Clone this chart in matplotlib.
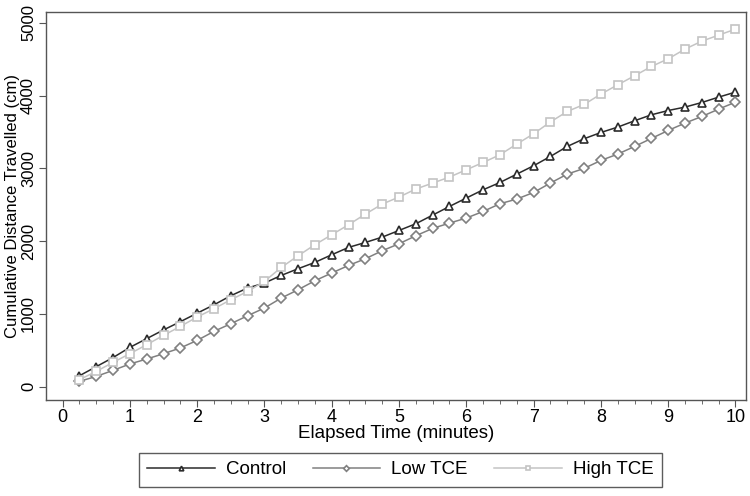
import numpy as np
import matplotlib.pyplot as plt

plt.rcParams['font.family'] = ['Liberation Sans', 'DejaVu Sans']

# elapsed time (minutes), every 15 s
minutes = np.arange(1, 41) * 0.25

control = [150, 275, 400, 540, 660, 780, 893, 1010, 1125, 1250,
           1356, 1424, 1529, 1621, 1708, 1813, 1914, 1982, 2055, 2147,
           2239, 2358, 2477, 2592, 2706, 2806, 2921, 3036, 3164, 3301,
           3407, 3493, 3567, 3654, 3736, 3795, 3842, 3905, 3979, 4048]
low_tce = [73, 141, 224, 312, 380, 453, 532, 636, 760, 865,
           975, 1081, 1218, 1332, 1456, 1562, 1666, 1758, 1868, 1964,
           2074, 2175, 2248, 2317, 2408, 2514, 2578, 2669, 2798, 2921,
           2999, 3109, 3196, 3301, 3411, 3521, 3622, 3713, 3814, 3910]
high_tce = [96, 210, 334, 453, 577, 705, 828, 957, 1071, 1195,
            1309, 1447, 1639, 1799, 1951, 2088, 2225, 2372, 2509, 2606,
            2716, 2798, 2880, 2981, 3081, 3187, 3334, 3475, 3638, 3782,
            3878, 4021, 4148, 4272, 4400, 4505, 4639, 4748, 4831, 4913]

series = [
    ("Control", control, "#2b2b2b", "^"),
    ("Low TCE", low_tce, "#808080", "D"),
    ("High TCE", high_tce, "#c4c4c4", "s"),
]

fig = plt.figure(figsize=(7.5, 4.96), dpi=100)
ax = fig.add_axes([0.061, 0.194, 0.934, 0.782])

for name, vals, col, mk in series:
    ax.plot(minutes, vals, color=col, lw=1.1, marker=mk,
            ms=5.5 if mk != "D" else 4.8, mfc="white", mec=col, mew=1.2,
            label=name)

ax.set_xlim(-0.25, 10.16)
ax.set_ylim(-180, 5150)
ax.set_xticks(range(0, 11))
ax.set_xticks(np.arange(0, 10.01, 0.25), minor=True)
ax.set_yticks(range(0, 5001, 1000))
ax.tick_params(axis='both', which='major', direction='out', length=5,
               color='#555555', pad=2)
ax.tick_params(axis='x', which='major', labelsize=13)
ax.tick_params(axis='y', which='major', labelsize=12)
ax.tick_params(axis='x', which='minor', direction='out', length=3,
               color='#555555')
for lbl in ax.get_yticklabels():
    lbl.set_rotation(90)
    lbl.set_va('center')
for sp in ax.spines.values():
    sp.set_color('#555555')
    sp.set_linewidth(1.0)

ax.set_xlabel("Elapsed Time (minutes)", fontsize=13.5, labelpad=-1)
ax.set_ylabel("Cumulative Distance Travelled (cm)", fontsize=12, labelpad=1)

leg = fig.legend(loc='lower center', bbox_to_anchor=(0.534, 0.0), ncol=3,
                 fontsize=13.5, handlelength=3.6, columnspacing=1.4,
                 handletextpad=0.6, fancybox=False, edgecolor='#333333',
                 borderpad=0.45, markerscale=0.6)
leg.get_frame().set_linewidth(1.0)

fig.savefig("out.png", dpi=100)
